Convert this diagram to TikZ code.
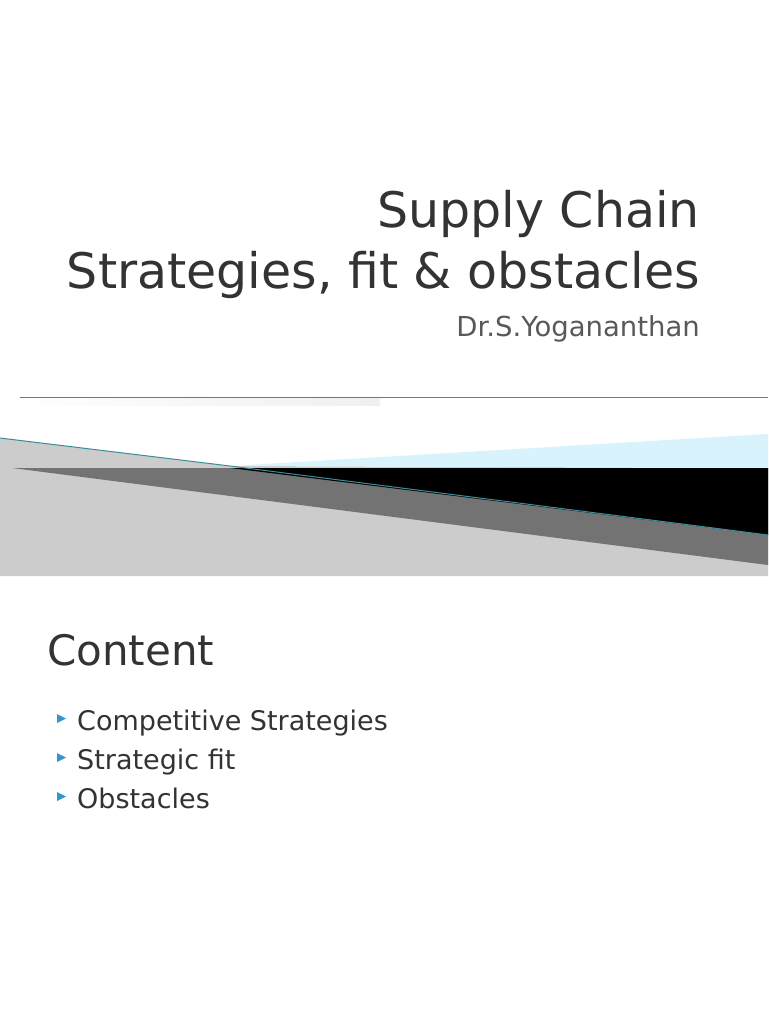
\documentclass[tikz,border=0pt]{standalone}
\usepackage{fontspec}
\setmainfont{DejaVu Sans}
\definecolor{tl}{RGB}{60,140,160}
\definecolor{bu}{RGB}{50,150,210}
\begin{document}
\begin{tikzpicture}[x=1pt,y=-1pt,
  txt/.style={inner sep=0pt,text=black!80},
  bul/.style={fill=bu}]
\useasboundingbox (0,0) rectangle (768,1024);
\fill[white] (0,0) rectangle (768,1024);
% band
\fill[left color=white,right color=gray!12] (0,397) rectangle (380,405);
\draw[tl,line width=1pt] (20,397) -- (768,397);
\fill[gray!40] (0,438) -- (230,466) -- (768,468) -- (768,576) -- (0,576) -- cycle;
\fill[cyan!15!white] (230,466) -- (768,434) -- (768,468) -- cycle;
\fill[gray!90!black] (12,468) -- (768,468) -- (768,565) -- cycle;
\fill[black] (230,468) -- (768,468) -- (768,535) -- cycle;
\draw[tl,line width=1pt] (0,438) -- (230,466) -- (768,535);
% title
\node[txt,anchor=base east,font=\fontsize{49}{58}\selectfont] (t1) at (700,228) {Supply Chain};
\node[txt,anchor=base east,font=\fontsize{49}{58}\selectfont] (t2) at (700,288) {Strategies, fit \& obstacles};
\node[txt,anchor=base east,text=black!65,font=\fontsize{27.5}{32}\selectfont] (sub) at (700,336) {Dr.S.Yogananthan};
% content slide
\node[txt,anchor=base west,font=\fontsize{42}{50}\selectfont] (ct) at (47,665) {Content};
\foreach \y/\t [count=\i] in {730/Competitive Strategies,769/Strategic fit,808/Obstacles}{
  \node[txt,anchor=base west,font=\fontsize{27}{32}\selectfont] (b\i) at (77,\y) {\t};
  \fill[bul] (57,\y-16) -- (66,\y-11.5) -- (57,\y-7) -- cycle;
}
\end{tikzpicture}
\end{document}
